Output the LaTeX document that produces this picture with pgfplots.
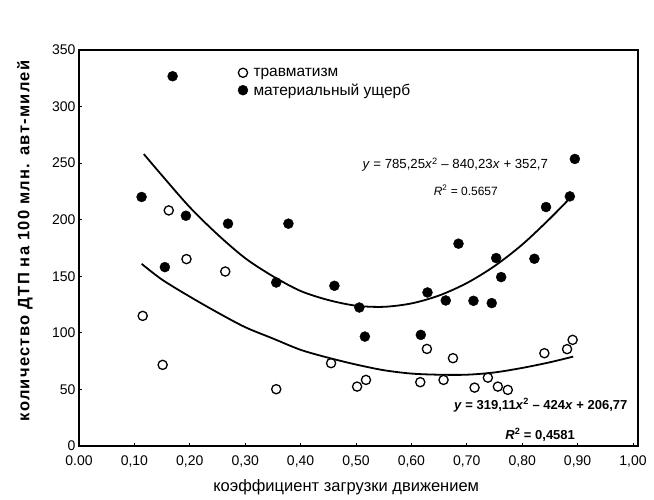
\documentclass[border=0pt]{standalone}
\usepackage{fontspec}
\setmainfont{Liberation Sans}
\newfontfamily\ylabfont[LetterSpace=8]{Liberation Sans}
\usepackage{pgfplots}
\pgfplotsset{compat=1.18}
\begin{document}
\begin{tikzpicture}[x=1pt,y=1pt]
\path[use as bounding box] (0,0) rectangle (654,500);
\begin{axis}[
  at={(79pt,54pt)}, anchor=south west,
  width=559pt, height=396pt, scale only axis,
  xmin=0, xmax=1.009, ymin=0, ymax=350,
  xtick={0,0.1,0.2,0.3,0.4,0.5,0.6,0.7,0.8,0.9,1.0},
  xticklabels={0.00,{0,10},{0,20},{0,30},{0,40},{0,50},{0,60},{0,70},{0,80},{0,90},{1,00}},
  ytick={0,50,100,150,200,250,300,350},
  /pgf/number format/assume math mode=true,
  tick label style={font=\fontsize{14}{16}\selectfont},
  xticklabel style={yshift=-6pt},
  axis line style={line width=1.2pt},
  tick style={black, line width=0.8pt},
  major tick length=3pt,
  tick align=inside,
  xtick pos=bottom, ytick pos=left,
  xlabel={коэффициент загрузки движением},
  xlabel style={font=\fontsize{16.5}{19}\selectfont, at={(axis description cs:0.478,-0.1035)}, anchor=center},
  ylabel={количество ДТП на 100 млн. авт-милей},
  ylabel style={font=\ylabfont\bfseries\fontsize{16.5}{19}\selectfont, at={(axis description cs:-0.0966,0.518)}, anchor=center, rotate=0},
  legend style={at={(axis description cs:0.281,0.963)}, anchor=north west, draw=none, fill=none,
    font=\fontsize{15.5}{18}\selectfont, row sep=2pt, inner sep=1pt},
  legend cell align=left,
  legend image code/.code={\path[draw=none,fill=none] (0cm,0cm) -- (0.5cm,0cm); \path[#1, only marks] plot coordinates {(0.2cm,0cm)};},
]
% травматизм (open circles)
\addplot[only marks, mark=o, mark size=4.6pt, line width=1.3pt, black] coordinates {
(0.115,115) (0.151,71.7) (0.162,208.2) (0.194,165.2) (0.264,154.2)
(0.356,50.2) (0.455,73.2) (0.502,52.5) (0.518,58.4) (0.616,56.4)
(0.628,85.8) (0.658,58.4) (0.675,77.6) (0.714,51.6) (0.738,60.4)
(0.756,52.5) (0.774,49.6) (0.840,82.0) (0.881,85.6) (0.891,93.8)
};
\addlegendentry{травматизм}
% материальный ущерб (filled circles)
\addplot[only marks, mark=*, mark size=5pt, black] coordinates {
(0.113,220.1) (0.155,158.1) (0.169,326.8) (0.193,203.5) (0.269,196.5)
(0.356,144.5) (0.378,196.5) (0.461,141.6) (0.506,122.4) (0.516,96.7)
(0.617,98.2) (0.629,135.7) (0.662,128.6) (0.685,178.8) (0.712,128.3)
(0.745,126.3) (0.753,166.1) (0.762,149.3) (0.822,165.5) (0.843,211.2)
(0.886,220.6) (0.895,253.7)
};
\addlegendentry{материальный ущерб}
% trend lines
\addplot[smooth, line width=1.8pt, black, forget plot] coordinates {
(0.117,258) (0.15,239) (0.20,211) (0.25,187) (0.30,166) (0.35,150) (0.40,137)
(0.45,129) (0.50,124) (0.55,123) (0.60,126) (0.65,133) (0.70,144) (0.75,159)
(0.80,178) (0.85,201) (0.892,222)
};
\addplot[smooth, line width=1.8pt, black, forget plot] coordinates {
(0.113,161) (0.15,147) (0.20,132) (0.25,118) (0.30,105) (0.35,95) (0.40,85)
(0.45,78) (0.50,72) (0.55,67) (0.60,64) (0.65,63) (0.70,63) (0.75,65)
(0.80,69) (0.85,74) (0.892,79)
};
\node[font=\fontsize{13.2}{15}\selectfont] at (rel axis cs:0.673,0.710)
  {\textit{y} = 785,25\textit{x}\textsuperscript{2} – 840,23\textit{x} + 352,7};
\node[font=\fontsize{12}{14}\selectfont] at (rel axis cs:0.692,0.646)
  {\textit{R}\textsuperscript{2} = 0.5657};
\node[font=\bfseries\fontsize{13}{15}\selectfont] at (rel axis cs:0.826,0.1035)
  {\textit{y} = 319,11\textit{x}\textsuperscript{2} – 424\textit{x} + 206,77};
\node[font=\bfseries\fontsize{13}{15}\selectfont] at (rel axis cs:0.825,0.028)
  {\textit{R}\textsuperscript{2} = 0,4581};
\end{axis}
\end{tikzpicture}
\end{document}
